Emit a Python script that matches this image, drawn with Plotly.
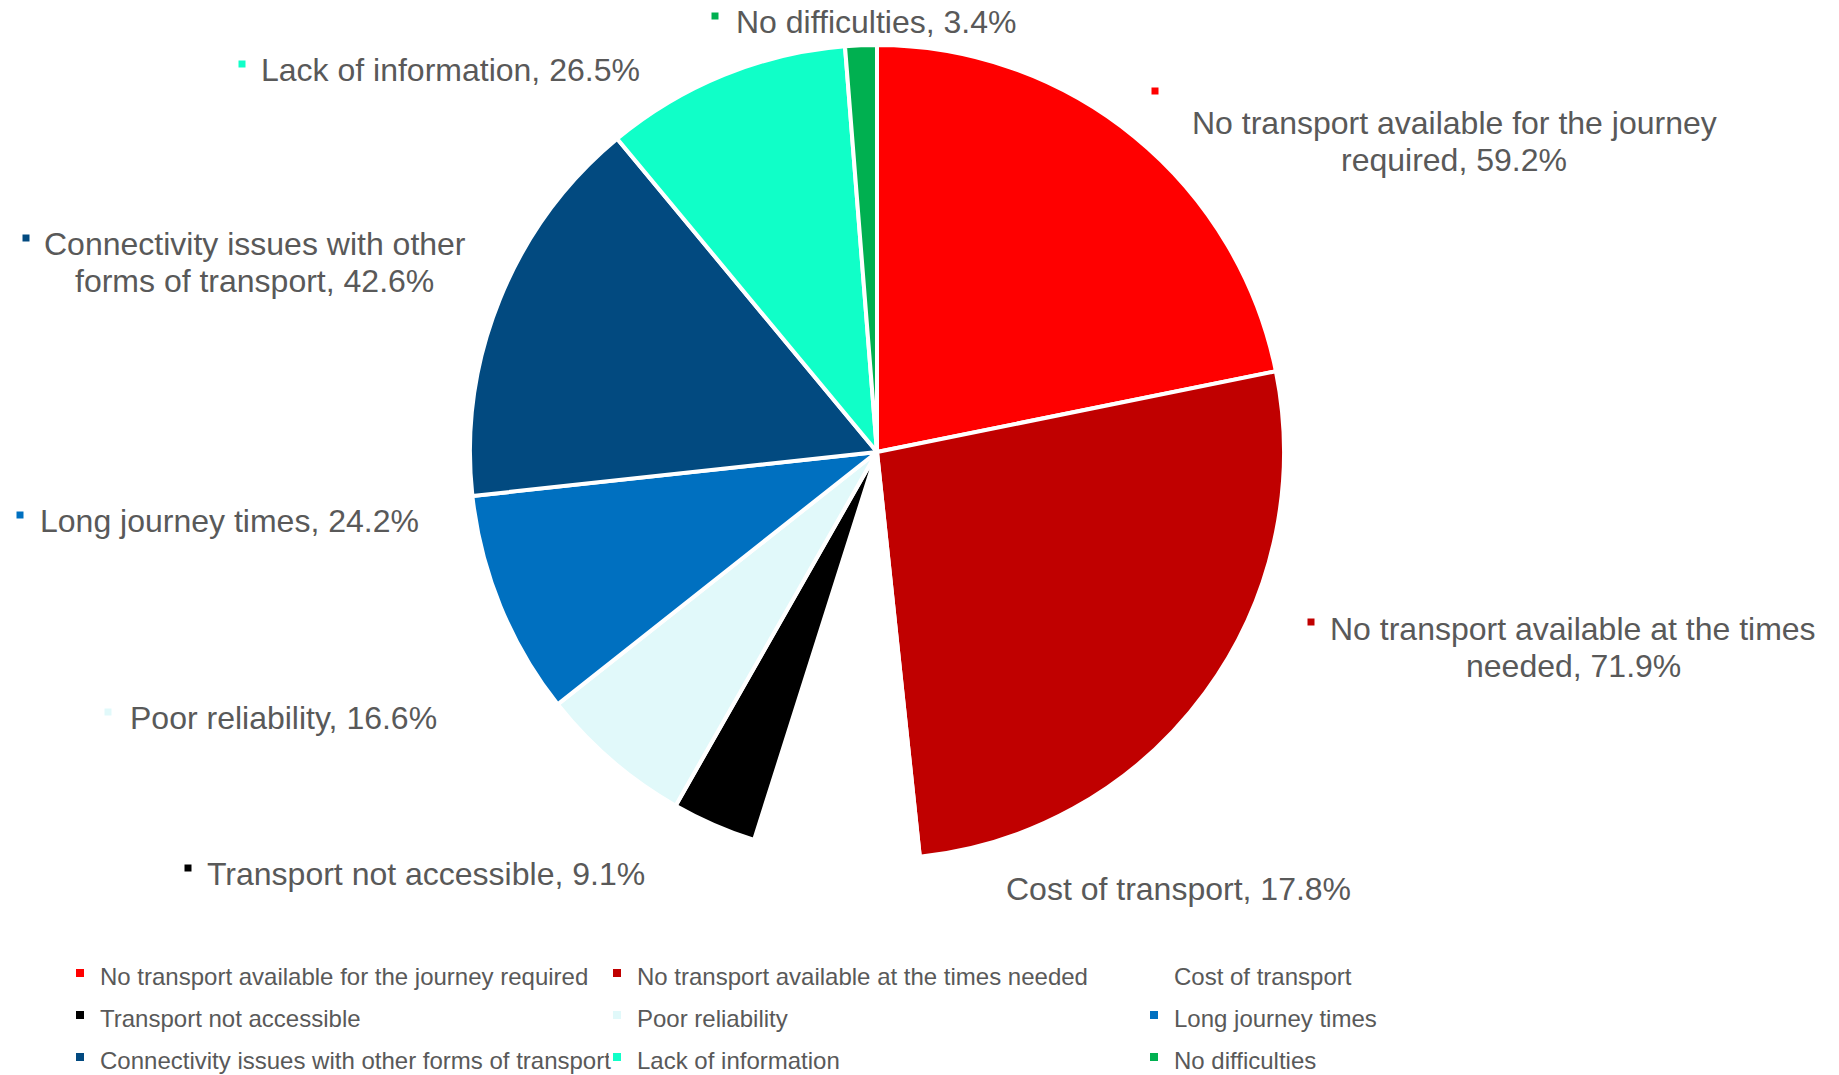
import plotly.graph_objects as go

# ---- data ----
categories = [
    "No transport available for the journey required",
    "No transport available at the times needed",
    "Cost of transport",
    "Transport not accessible",
    "Poor reliability",
    "Long journey times",
    "Connectivity issues with other forms of transport",
    "Lack of information",
    "No difficulties",
]
values = [59.2, 71.9, 17.8, 9.1, 16.6, 24.2, 42.6, 26.5, 3.4]
colors = ["#FF0000", "#C00000", "#FFFFFF", "#000000", "#E1F9FA",
          "#0070C0", "#024A80", "#10FFC8", "#00B050"]
# outside label text (lines separated by <br>)
label_texts = [
    "No transport available for the journey<br>required, {v}%",
    "No transport available at the times<br>needed, {v}%",
    "Cost of transport, {v}%",
    "Transport not accessible, {v}%",
    "Poor reliability, {v}%",
    "Long journey times, {v}%",
    "Connectivity issues with other<br>forms of transport, {v}%",
    "Lack of information, {v}%",
    "No difficulties, {v}%",
]

# ---- page / figure geometry ----
W = 1839
H = 1100          # a little taller than the window so the legend fits without auto-margins
TEXT = "#595959"
FONT = "Liberation Sans, Arial, sans-serif"


def px(x):
    return x / W


def py(y):
    return 1 - y / H


# label layout: (text x, first line y, xanchor, marker x, marker y), page pixels
label_pos = [
    (1454, 123, "center", 1155, 91),
    (1573, 629, "center", 1311, 622),
    (1005, 889, "left", 985, 883),
    (206, 874, "left", 188, 868),
    (129, 718, "left", 108, 712),
    (39, 521, "left", 20, 515),
    (255, 244, "center", 26, 238),
    (260, 70, "left", 242, 64),
    (735, 22, "left", 715, 16),
]
LINE_STEP = 37

cx, cy, r = 877, 452, 407

legend_names = ["<span style='font-size:24px'>%s</span>" % c for c in categories]

fig = go.Figure()
fig.add_trace(go.Pie(
    labels=legend_names,
    values=values,
    sort=False,
    direction="clockwise",
    rotation=0,
    textinfo="none",
    marker=dict(colors=colors, line=dict(color="#FFFFFF", width=4)),
    domain=dict(x=[px(cx - r), px(cx + r)], y=[py(cy + r), py(cy - r)]),
    customdata=categories,
    hovertemplate="%{customdata}: %{value}%<extra></extra>",
))

annotations = []
shapes = []
for txt, v, col, (tx, ty, xa, mx, my) in zip(label_texts, values, colors, label_pos):
    for i, line in enumerate(txt.format(v=v).split("<br>")):
        annotations.append(dict(
            x=px(tx), y=py(ty + i * LINE_STEP), xref="paper", yref="paper",
            xanchor=xa, yanchor="middle", align="center",
            text=line, showarrow=False, borderpad=0,
            font=dict(family=FONT, size=32, color=TEXT),
        ))
    shapes.append(dict(
        type="rect", xref="paper", yref="paper",
        xsizemode="pixel", ysizemode="pixel",
        xanchor=px(mx), yanchor=py(my),
        x0=-3.5, x1=3.5, y0=-3.5, y1=3.5,
        fillcolor=col, line=dict(width=0),
    ))

fig.update_layout(
    width=W, height=H,
    margin=dict(l=0, r=0, t=0, b=0),
    paper_bgcolor="white",
    plot_bgcolor="white",
    font=dict(family=FONT, color=TEXT),
    showlegend=True,
    legend=dict(
        orientation="h",
        x=px(60), xanchor="left",
        y=py(947), yanchor="top",
        entrywidth=492, entrywidthmode="pixels",
        font=dict(family=FONT, size=30, color=TEXT),
        traceorder="normal",
    ),
    annotations=annotations,
    shapes=shapes,
)

fig.write_html("out.html", config={"displayModeBar": False},
               post_script="document.body.style.margin='0';")
